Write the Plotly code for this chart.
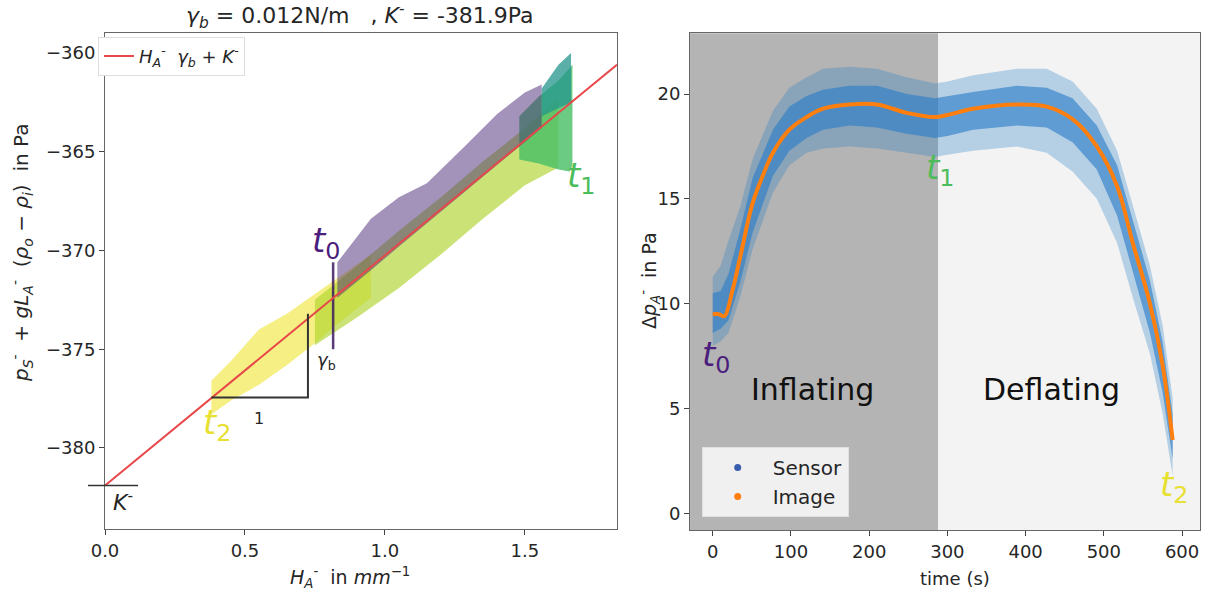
import plotly.graph_objects as go

# ---------------- Left panel data ----------------
K_minus = -381.9
slope_read = 11.65          # Pa per mm^-1
line_H = [0.0, 1.83]

yel_H = [0.38, 0.45, 0.55, 0.65, 0.75, 0.85, 0.95]
yel_up = [-376.6, -375.6, -374.0, -373.2, -372.2, -371.2, -370.2]
yel_lo = [-378.3, -377.6, -376.8, -375.8, -374.7, -373.5, -372.4]

lime_H = [0.75, 0.9, 1.05, 1.2, 1.35, 1.5, 1.62]
lime_up = [-372.5, -370.8, -369.0, -367.3, -365.5, -363.8, -362.3]
lime_lo = [-374.8, -373.4, -371.9, -370.2, -368.4, -366.7, -365.8]

grn_H = [1.48, 1.55, 1.62, 1.66, 1.67]
grn_up = [-363.2, -362.2, -361.4, -360.8, -360.6]
grn_lo = [-365.4, -365.6, -365.9, -366.0, -365.7]

teal_H = [1.56, 1.62, 1.665]
teal_up = [-361.8, -360.6, -360.0]
teal_lo = [-363.2, -362.8, -362.5]

pur_H = [0.83, 0.95, 1.05, 1.15, 1.28, 1.40, 1.50, 1.56]
pur_up = [-370.6, -368.4, -367.3, -366.6, -364.8, -363.1, -362.0, -361.6]
pur_lo = [-372.4, -371.0, -369.8, -368.6, -367.1, -365.7, -364.5, -363.8]

streak_H = [0.815, 0.815]
streak_y = [-375.0, -370.6]

tri_H = [0.38, 0.725, 0.725]
tri_y = [-377.45, -377.45, -373.2]

# ---------------- Right panel data ----------------
t_img = [0, 8, 15, 25, 35, 51, 65, 77, 98, 120, 141, 175, 210, 248, 284, 300,
         333, 389, 427, 460, 491, 517, 537, 559, 575, 588]
p_img = [9.5, 9.5, 9.4, 10.6, 12.2, 14.8, 16.2, 17.2, 18.3, 18.9, 19.3, 19.5,
         19.5, 19.1, 18.9, 19.0, 19.3, 19.5, 19.4, 18.8, 17.5, 15.6, 12.9, 10.0, 7.1, 3.5]

t_env = [0, 10, 20, 35, 51, 77, 98, 120, 141, 175, 210, 248, 284, 300, 333, 389,
         427, 460, 491, 517, 537, 559, 575, 588]
out_up = [11.3, 11.8, 13.0, 14.6, 16.9, 19.2, 20.3, 20.8, 21.2, 21.3, 21.2, 20.8,
          20.5, 20.6, 20.9, 21.2, 21.2, 20.6, 19.3, 17.3, 14.7, 11.8, 9.0, 5.5]
out_lo = [8.0, 8.2, 8.6, 10.3, 12.6, 15.3, 16.6, 17.2, 17.4, 17.5, 17.4, 17.2,
          17.0, 17.1, 17.3, 17.5, 17.2, 16.3, 15.0, 12.9, 10.3, 7.6, 4.8, 1.8]
in_up = [10.5, 10.6, 11.4, 13.5, 16.0, 18.3, 19.4, 19.9, 20.2, 20.4, 20.4, 20.0,
         19.8, 19.9, 20.1, 20.4, 20.3, 19.8, 18.5, 16.6, 14.0, 11.1, 8.2, 4.7]
in_lo = [8.6, 8.8, 9.2, 11.0, 13.4, 16.1, 17.3, 17.9, 18.3, 18.5, 18.4, 18.1,
         17.9, 18.0, 18.3, 18.5, 18.4, 17.7, 16.4, 14.2, 11.6, 8.6, 5.8, 2.6]

t_switch = 288
x2_range = [-29, 623]

FONT = "DejaVu Sans"
fig = go.Figure()


def band(x, up, lo, color, xa="x", ya="y"):
    fig.add_trace(go.Scatter(
        x=list(x) + list(x)[::-1], y=list(up) + list(lo)[::-1],
        fill="toself", fillcolor=color, mode="lines", line=dict(width=0),
        hoverinfo="skip", showlegend=False, xaxis=xa, yaxis=ya))


# left clouds
band(yel_H, yel_up, yel_lo, "rgba(238,228,50,0.6)")
band(lime_H, lime_up, lime_lo, "rgba(175,212,45,0.65)")
band(grn_H, grn_up, grn_lo, "rgba(70,190,100,0.8)")
band(teal_H, teal_up, teal_lo, "rgba(35,150,140,0.75)")
band(pur_H, pur_up, pur_lo, "rgba(72,40,120,0.5)")
fig.add_trace(go.Scatter(x=streak_H, y=streak_y, mode="lines",
                         line=dict(color="rgba(60,25,95,0.85)", width=2.5),
                         showlegend=False, hoverinfo="skip"))
# fit line
fig.add_trace(go.Scatter(
    x=line_H, y=[K_minus + slope_read * h for h in line_H], mode="lines",
    line=dict(color="#e8474a", width=2),
    name="<i>H</i><sub><i>A</i></sub><sup>-</sup>  <i>γ<sub>b</sub></i> + <i>K</i><sup>-</sup>",
    legend="legend"))
# slope triangle
fig.add_trace(go.Scatter(x=tri_H, y=tri_y, mode="lines",
                         line=dict(color="#333333", width=2),
                         showlegend=False, hoverinfo="skip"))

# right clouds
band(t_env, out_up, out_lo, "rgba(40,125,200,0.3)", "x2", "y2")
band(t_env, in_up, in_lo, "rgba(40,125,200,0.62)", "x2", "y2")
fig.add_trace(go.Scatter(x=t_img, y=p_img, mode="lines", line=dict(color="#ff7f0e", width=4, shape="spline"),
                         showlegend=False, xaxis="x2", yaxis="y2"))
fig.add_trace(go.Scatter(x=[None], y=[None], mode="markers", name="Sensor",
                         marker=dict(color="#3a5cad", size=7), xaxis="x2", yaxis="y2", legend="legend2"))
fig.add_trace(go.Scatter(x=[None], y=[None], mode="markers", name="Image",
                         marker=dict(color="#ff7f0e", size=7), xaxis="x2", yaxis="y2", legend="legend2"))

axis_common = dict(showline=True, mirror=True, linecolor="#666666", linewidth=1, automargin=False,
                   ticks="outside", ticklen=5, tickcolor="#444444", showgrid=False, zeroline=False,
                   tickfont=dict(family=FONT, size=18, color="#262626"))

fig.update_layout(
    width=1214, height=593, margin=dict(l=0, r=0, t=0, b=0, autoexpand=False),
    paper_bgcolor="white", plot_bgcolor="white",
    font=dict(family=FONT, color="#262626"),
    xaxis=dict(domain=[0.0865, 0.5082], range=[0, 1.829], tickvals=[0, 0.5, 1.0, 1.5],
               ticktext=["0.0", "0.5", "1.0", "1.5"], **axis_common),
    yaxis=dict(domain=[0.108, 0.944], range=[-384.1, -359.0],
               tickvals=[-380, -375, -370, -365, -360], **axis_common),
    xaxis2=dict(domain=[0.5684, 0.9885], range=x2_range, tickvals=[0, 100, 200, 300, 400, 500, 600],
                anchor="y2", **axis_common),
    yaxis2=dict(domain=[0.106, 0.944], range=[-0.8, 22.9], tickvals=[0, 5, 10, 15, 20],
                anchor="x2", **axis_common),
    legend=dict(x=0.0807, y=0.938, xanchor="left", yanchor="top", bgcolor="white",
                bordercolor="#dddddd", borderwidth=1, font=dict(family=FONT, size=18, color="#262626")),
    legend2=dict(x=0.578, y=0.128, xanchor="left", yanchor="bottom", bgcolor="#f0f0f0",
                 bordercolor="#e0e0e0", borderwidth=1, font=dict(family=FONT, size=20, color="#262626"),
                 itemwidth=60, tracegroupgap=4),
    shapes=[
        dict(type="rect", xref="x2", yref="y2 domain", x0=x2_range[0], x1=t_switch, y0=0, y1=1,
             fillcolor="#b4b4b4", line=dict(width=0), layer="below"),
        dict(type="rect", xref="x2", yref="y2 domain", x0=t_switch, x1=x2_range[1], y0=0, y1=1,
             fillcolor="#f3f3f3", line=dict(width=0), layer="below"),
        dict(type="line", xref="paper", yref="y", x0=88 / 1214, x1=138 / 1214, y0=K_minus, y1=K_minus,
             line=dict(color="#333333", width=1.5)),
    ],
)

C = dict(xanchor="center", yanchor="middle", showarrow=False)
ann = []
ann.append(dict(xref="paper", yref="paper", x=360 / 1214, y=1 - 16 / 593, **C,
                text="<i>γ<sub>b</sub></i> = 0.012N/m   , <i>K</i><sup>-</sup> = -381.9Pa",
                font=dict(family=FONT, size=22, color="#262626")))
ann.append(dict(xref="paper", yref="paper", x=21 / 1214, y=1 - 253 / 593, **C, textangle=-90,
                text="<i>p</i><sub><i>S</i></sub><sup>-</sup>  + <i>gL</i><sub><i>A</i></sub><sup>-</sup>  (<i>ρ<sub>o</sub></i> − <i>ρ<sub>i</sub></i>)  in Pa",
                font=dict(family=FONT, size=20, color="#262626")))
ann.append(dict(xref="paper", yref="paper", x=350 / 1214, y=1 - 577 / 593, **C,
                text="<i>H</i><sub><i>A</i></sub><sup>-</sup>  in <i>mm</i><sup>−1</sup>",
                font=dict(family=FONT, size=19, color="#262626")))
ann.append(dict(xref="paper", yref="paper", x=650 / 1214, y=1 - 280 / 593, **C, textangle=-90,
                text="Δ<i>p</i><sub><i>A</i></sub><sup>-</sup>  in Pa",
                font=dict(family=FONT, size=19, color="#262626")))
ann.append(dict(xref="paper", yref="paper", x=955 / 1214, y=1 - 578 / 593, **C,
                text="time (s)", font=dict(family=FONT, size=18, color="#262626")))
# left labels
ann.append(dict(xref="x", yref="y", x=0.79, y=-369.6, **C, text="<i>t</i><sub>0</sub>",
                font=dict(family=FONT, size=34, color="#4b1d7d")))
ann.append(dict(xref="x", yref="y", x=1.70, y=-366.3, **C, text="<i>t</i><sub>1</sub>",
                font=dict(family=FONT, size=34, color="#4cbd5a")))
ann.append(dict(xref="x", yref="y", x=0.40, y=-378.8, **C, text="<i>t</i><sub>2</sub>",
                font=dict(family=FONT, size=34, color="#e8e030")))
ann.append(dict(xref="x", yref="y", x=0.065, y=-382.7, **C, text="<i>K</i><sup>-</sup>",
                font=dict(family=FONT, size=22, color="#262626")))
ann.append(dict(xref="x", yref="y", x=0.55, y=-378.5, **C, text="1",
                font=dict(family=FONT, size=16, color="#262626")))
ann.append(dict(xref="x", yref="y", x=0.79, y=-375.6, **C, text="<i>γ</i><sub>b</sub>",
                font=dict(family=FONT, size=18, color="#262626")))
# right labels
ann.append(dict(xref="x2", yref="y2", x=4, y=7.5, **C, text="<i>t</i><sub>0</sub>",
                font=dict(family=FONT, size=34, color="#4b1d7d")))
ann.append(dict(xref="x2", yref="y2", x=290, y=16.4, **C, text="<i>t</i><sub>1</sub>",
                font=dict(family=FONT, size=34, color="#4cbd5a")))
ann.append(dict(xref="x2", yref="y2", x=590, y=1.3, **C, text="<i>t</i><sub>2</sub>",
                font=dict(family=FONT, size=34, color="#e8e030")))
ann.append(dict(xref="x2", yref="y2", x=127, y=5.9, **C, text="Inflating",
                font=dict(family=FONT, size=30, color="#111111")))
ann.append(dict(xref="x2", yref="y2", x=433, y=5.9, **C, text="Deflating",
                font=dict(family=FONT, size=30, color="#111111")))
fig.update_layout(annotations=ann)

fig.write_html("out.html", config={"displayModeBar": False},
               post_script="document.body.style.margin='0';document.body.style.overflow='hidden';")
